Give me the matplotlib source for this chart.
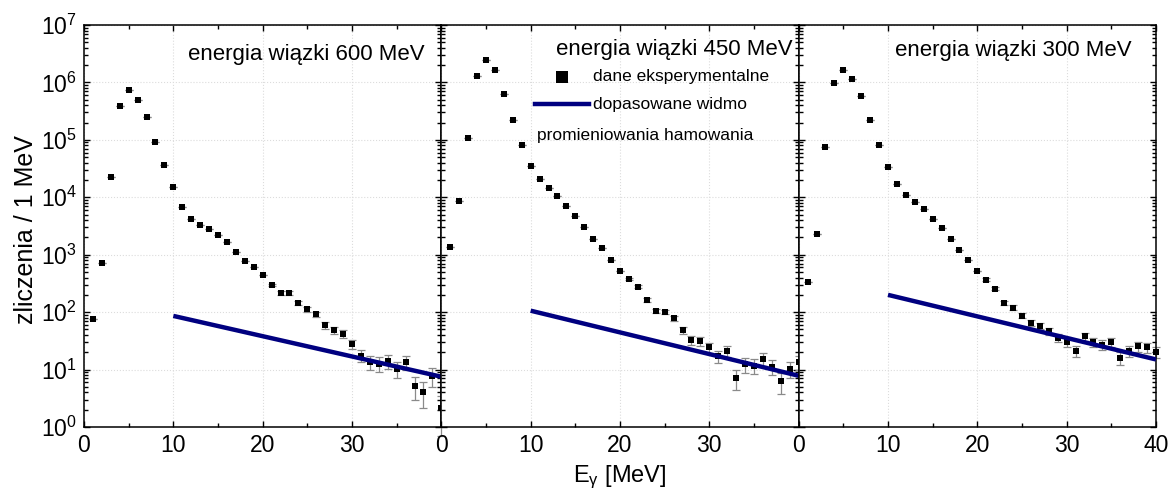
import numpy as np
import matplotlib
matplotlib.use('Agg')
import matplotlib.pyplot as plt
from matplotlib.ticker import LogLocator, NullFormatter, MultipleLocator, FixedLocator

plt.rcParams['font.family'] = ['Liberation Sans', 'DejaVu Sans']
plt.rcParams['mathtext.fontset'] = 'custom'
plt.rcParams['mathtext.rm'] = 'Liberation Sans'
plt.rcParams['mathtext.it'] = 'Liberation Sans'
plt.rcParams['mathtext.bf'] = 'Liberation Sans:bold'

# ---------------- data ----------------
energy = list(range(1, 41))  # E_gamma [MeV]

counts_600 = [76, 725, 23000, 390000, 740000, 500000, 250000, 91000, 37000, 15400,
              6800, 4150, 3250, 2750, 2200, 1670, 1130, 790, 605, 450,
              298, 215, 215, 146, 112, 92, 59, 48, 42, 28,
              17.5, 13.7, 12.7, 14.1, 10.2, 13.4, 5.2, 4.1, 7.7, 2.1]
counts_450 = [1350, 8700, 107000, 1.32e6, 2.47e6, 1.63e6, 640000, 218000, 81000, 35600,
              21000, 14500, 10500, 7150, 4800, 3000, 1900, 1290, 810, 515,
              380, 275, 165, 105, 101, 78, 48, 33, 31, 24.5,
              17, 21.3, 7.1, 12.3, 11.7, 15.3, 11.2, 6.2, 10.2, 13.4]
counts_300 = [330, 2330, 76000, 960000, 1.66e6, 1.17e6, 576000, 220000, 81000, 34000,
              17300, 11100, 8200, 6150, 4200, 2900, 1880, 1200, 800, 530,
              370, 255, 145, 120, 87, 66, 58, 46.5, 36, 30.7,
              21.3, 38, 30, 27, 30, 16, 21, 25.4, 24.5, 20.3]

# uncertainties (visible only for the tail, E = 21..40 MeV)
err_tail_600 = [17, 15, 15, 12, 10.6, 9.6, 7.7, 6.9, 6.5, 5.3,
                4.2, 3.7, 3.6, 3.8, 3.2, 3.7, 2.3, 2.0, 2.8, 1.4]
err_tail_450 = [19.5, 16.6, 12.8, 10.2, 10, 8.8, 6.9, 5.7, 5.6, 4.9,
                4.1, 4.6, 2.7, 3.5, 3.4, 3.9, 3.3, 2.5, 3.2, 3.7]
err_tail_300 = [19.2, 16, 12, 11, 9.3, 8.1, 7.6, 6.8, 6, 5.5,
                4.6, 6.2, 5.5, 5.2, 5.5, 4, 4.6, 5, 4.9, 4.5]

# fitted bremsstrahlung spectrum (endpoints of the fit range)
fit_energy = [10, 40]
fit_600 = [86, 7.5]
fit_450 = [106, 7.8]
fit_300 = [200, 15.0]

titles = ['energia wiązki 600 MeV', 'energia wiązki 450 MeV', 'energia wiązki 300 MeV']
xtick_vals = [0, 10, 20, 30, 40]
xtick_labels_inner = ['0', '10', '20', '30', '']
xtick_labels_last = ['0', '10', '20', '30', '40']

legend_data = 'dane eksperymentalne'
legend_fit_1 = 'dopasowane widmo'
legend_fit_2 = 'promieniowania hamowania'
ylabel = 'zliczenia / 1 MeV'
xlabel = r'E$_{\gamma}$ [MeV]'

# ---------------- figure ----------------
W, H = 1171, 493
fig = plt.figure(figsize=(W / 100, H / 100), dpi=100)

left_px, right_px, top_px, bot_px = 84, 1156, 25, 427
pw = (right_px - left_px) / 3.0

panels = [
    (counts_600, err_tail_600, fit_600),
    (counts_450, err_tail_450, fit_450),
    (counts_300, err_tail_300, fit_300),
]
title_pos = [(0.953, 0.913), (0.982, 0.925), (0.932, 0.922)]

line_color = '#000080'
axes = []
for i, (cnt, errt, fit) in enumerate(panels):
    ax = fig.add_axes([(left_px + i * pw) / W, 1 - bot_px / H, pw / W, (bot_px - top_px) / H])
    axes.append(ax)
    err = [0.0] * (len(cnt) - len(errt)) + errt
    ax.errorbar(energy, cnt, yerr=err, fmt='none', ecolor='#8a8a8a', elinewidth=0.9,
                capsize=2.6, capthick=0.9, zorder=2, clip_on=False)
    ax.plot(energy, cnt, 's', color='black', ms=4.5, mew=0, zorder=3, clip_on=False)
    ax.plot(fit_energy, fit, '-', color=line_color, lw=3.2, solid_capstyle='butt', zorder=4)

    ax.set_yscale('log')
    ax.set_xlim(0, 40)
    ax.set_ylim(1, 1e7)

    ax.xaxis.set_major_locator(FixedLocator(xtick_vals))
    ax.set_xticklabels(xtick_labels_last if i == 2 else xtick_labels_inner)
    ax.xaxis.set_minor_locator(MultipleLocator(5))
    ax.yaxis.set_major_locator(LogLocator(base=10, numticks=20))
    ax.yaxis.set_minor_locator(LogLocator(base=10, subs=np.arange(2, 10), numticks=20))
    ax.yaxis.set_minor_formatter(NullFormatter())

    ax.tick_params(which='both', direction='in', top=True, right=True, width=1.0, colors='black')
    ax.tick_params(which='major', length=4.5, labelsize=16.5, pad=5)
    ax.tick_params(which='minor', length=2.6)
    if i > 0:
        ax.tick_params(axis='y', labelleft=False)
    for s in ax.spines.values():
        s.set_linewidth(1.1)

    ax.grid(True, which='major', linestyle=':', color='#dcdcdc', linewidth=0.8)
    ax.set_axisbelow(True)

    tx, ty = title_pos[i]
    ax.text(tx, ty, titles[i], transform=ax.transAxes, ha='right', va='baseline', fontsize=16)

# legend inside middle panel (drawn by hand to match the layout)
ax = axes[1]
ax.plot([0.337], [0.871], 's', color='black', ms=8, mew=0, transform=ax.transAxes, clip_on=False)
ax.text(0.424, 0.871, legend_data, transform=ax.transAxes, ha='left', va='center', fontsize=12.5)
ax.plot([0.263, 0.413], [0.803, 0.803], '-', color=line_color, lw=3.2, transform=ax.transAxes)
ax.text(0.424, 0.803, legend_fit_1, transform=ax.transAxes, ha='left', va='center', fontsize=12.5)
ax.text(0.267, 0.726, legend_fit_2, transform=ax.transAxes, ha='left', va='center', fontsize=12.5)

fig.text(0.022, 0.535, ylabel, rotation=90, ha='center', va='center', fontsize=18)
fig.text(0.5295, 0.032, xlabel, ha='center', va='center', fontsize=17)

fig.savefig('out.png', dpi=100)
